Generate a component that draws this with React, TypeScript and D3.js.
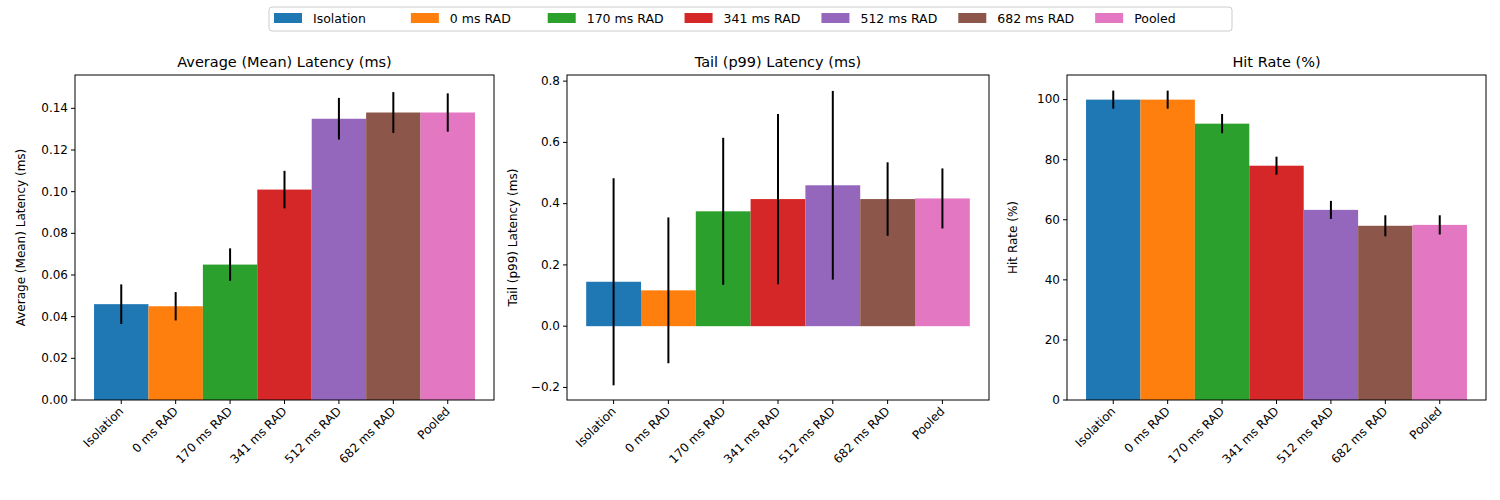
import React from 'react';
import * as d3 from 'd3';

const categories = ['Isolation', '0 ms RAD', '170 ms RAD', '341 ms RAD', '512 ms RAD', '682 ms RAD', 'Pooled'];
const colors = ['#1f77b4', '#ff7f0e', '#2ca02c', '#d62728', '#9467bd', '#8c564b', '#e377c2'];

const meanValues = [0.046, 0.045, 0.065, 0.101, 0.135, 0.138, 0.138];
const meanErr = [0.0095, 0.0068, 0.0078, 0.009, 0.010, 0.0098, 0.0092];
const p99Values = [0.145, 0.117, 0.375, 0.415, 0.46, 0.415, 0.417];
const p99Err = [0.338, 0.238, 0.24, 0.278, 0.308, 0.12, 0.098];
const hitValues = [100, 100, 92, 78, 63.3, 58, 58.3];
const hitErr = [3, 3, 3.2, 3, 3, 3.5, 3.2];

const panels = [
  { title: 'Average (Mean) Latency (ms)', ylabel: 'Average (Mean) Latency (ms)', values: meanValues, errs: meanErr, domain: [0, 0.156], ticks: [0, 0.02, 0.04, 0.06, 0.08, 0.1, 0.12, 0.14], fmt: d3.format('.2f'), left: 75, right: 494 },
  { title: 'Tail (p99) Latency (ms)', ylabel: 'Tail (p99) Latency (ms)', values: p99Values, errs: p99Err, domain: [-0.241, 0.82], ticks: [-0.2, 0, 0.2, 0.4, 0.6, 0.8], fmt: d3.format('.1f'), left: 567, right: 989 },
  { title: 'Hit Rate (%)', ylabel: 'Hit Rate (%)', values: hitValues, errs: hitErr, domain: [0, 108.2], ticks: [0, 20, 40, 60, 80, 100], fmt: d3.format('d'), left: 1067, right: 1486 },
];

const top = 75, bottom = 400;
const font = 'DejaVu Sans, sans-serif';

const Panel = ({ p }: { p: typeof panels[0] }) => {
  const x = d3.scaleLinear().domain([-0.85, 6.85]).range([p.left, p.right]);
  const y = d3.scaleLinear().domain(p.domain).range([bottom, top]);
  const bw = x(1) - x(0);
  return (
    <g fontFamily={font}>
      {p.values.map((v, i) => (
        <rect key={i} x={x(i - 0.5)} width={bw} y={Math.min(y(v), y(0))} height={Math.abs(y(0) - y(v))} fill={colors[i]} />
      ))}
      {p.values.map((v, i) => (
        <line key={'e' + i} x1={x(i)} x2={x(i)} y1={y(v - p.errs[i])} y2={y(v + p.errs[i])} stroke="#000" strokeWidth={2} />
      ))}
      <rect x={p.left} y={top} width={p.right - p.left} height={bottom - top} fill="none" stroke="#000" strokeWidth={1} />
      {p.ticks.map(t => (
        <g key={t} transform={`translate(${p.left},${y(t)})`}>
          <line x1={-4} x2={0} stroke="#000" />
          <text x={-7} dy="0.32em" textAnchor="end" fontSize={12}>{p.fmt(t)}</text>
        </g>
      ))}
      {categories.map((c, i) => (
        <g key={c} transform={`translate(${x(i)},${bottom})`}>
          <line y2={4} stroke="#000" />
          <text transform="translate(3,12) rotate(-45)" textAnchor="end" fontSize={12}>{c}</text>
        </g>
      ))}
      <text x={(p.left + p.right) / 2} y={67} textAnchor="middle" fontSize={14.5}>{p.title}</text>
      <text transform={`translate(${p.left - 50},${(top + bottom) / 2}) rotate(-90)`} textAnchor="middle" fontSize={12}>{p.ylabel}</text>
    </g>
  );
};

export default function App() {
  const legendX = d3.scaleLinear().domain([0, 7]).range([274, 1232]);
  return (
    <svg width={1500} height={500} style={{ position: 'absolute', left: 0, top: 0 }}>
      <rect width={1500} height={500} fill="#fff" />
      {panels.map(p => <Panel key={p.title} p={p} />)}
      <rect x={269} y={7} width={963} height={24} rx={3} fill="#fff" stroke="#ccc" />
      {categories.map((c, i) => (
        <g key={c} transform={`translate(${legendX(i)},13)`} fontFamily={font}>
          <rect width={28} height={10} fill={colors[i]} />
          <text x={39} y={10} fontSize={12.5}>{c}</text>
        </g>
      ))}
    </svg>
  );
}
